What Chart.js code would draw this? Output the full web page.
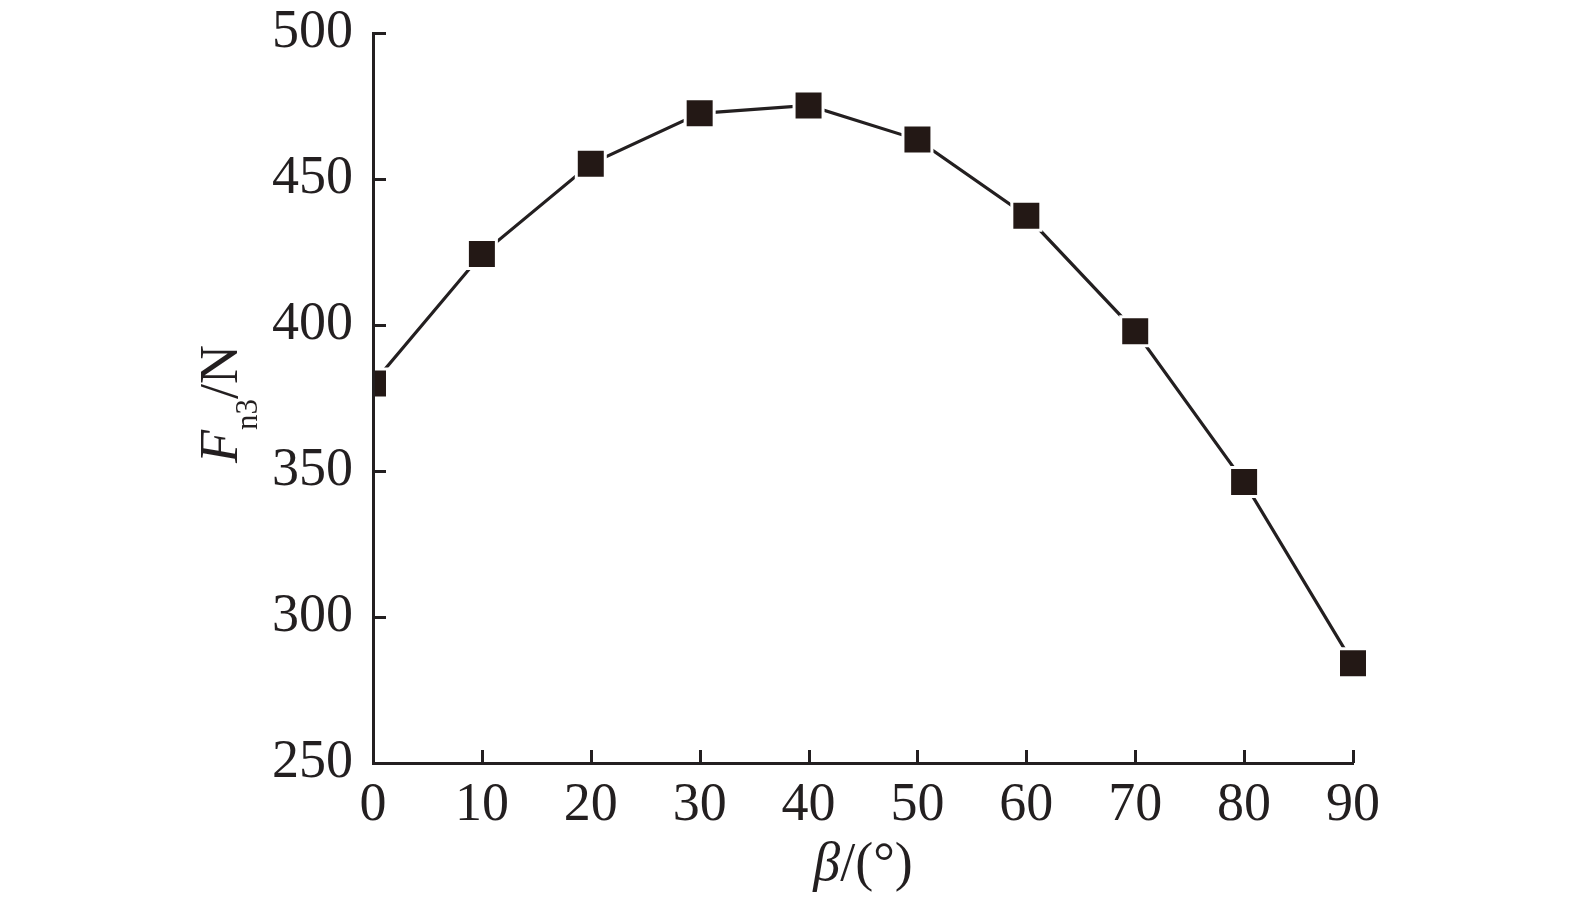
<!DOCTYPE html>
<html>
<head>
<meta charset="utf-8">
<script src="https://cdn.jsdelivr.net/npm/chart.js@4/dist/chart.umd.min.js"></script>
<style>
  html, body { margin: 0; padding: 0; background: #fff; }
</style>
</head>
<body>
<canvas id="chart" width="1575" height="902"></canvas>
<script>
// beta angle in degrees and measured normal force Fn3 in N
const betaDeg = [0, 10, 20, 30, 40, 50, 60, 70, 80, 90];
const fn3 = [380, 424.3, 455.2, 472.5, 475.2, 463.5, 437.4, 397.9, 346.2, 284.2];
const xTicks = [0, 10, 20, 30, 40, 50, 60, 70, 80, 90];
const yTicks = [250, 300, 350, 400, 450, 500];

const ink = '#231f20';
const serif = '"Liberation Serif", "Times New Roman", serif';

// ticks point into the plot area, so draw them ourselves
const innerTicks = {
    id: 'innerTicks',
    afterDraw(chart) {
        const ctx = chart.ctx;
        const xs = chart.scales.x, ys = chart.scales.y;
        const len = 13;
        ctx.save();
        ctx.strokeStyle = ink;
        ctx.lineWidth = 3;
        ctx.beginPath();
        xTicks.forEach(v => {
            const px = Math.round(xs.getPixelForValue(v)) + 0.5;
            ctx.moveTo(px, ys.bottom);
            ctx.lineTo(px, ys.bottom - len);
        });
        yTicks.forEach(v => {
            const py = Math.round(ys.getPixelForValue(v)) + 0.5;
            ctx.moveTo(xs.left, py);
            ctx.lineTo(xs.left + len, py);
        });
        ctx.stroke();
        ctx.restore();
    }
};

// axis titles with italic symbols and a subscript
const axisTitles = {
    id: 'axisTitles',
    afterDraw(chart) {
        const ctx = chart.ctx;
        const area = chart.chartArea;
        ctx.save();
        ctx.fillStyle = ink;
        ctx.textBaseline = 'alphabetic';

        // y title: F_n3/N
        const big = '54px ' + serif, bigIt = 'italic 54px ' + serif, small = '31px ' + serif;
        const parts = [
            { t: 'F', f: bigIt, dy: 0 },
            { t: 'n3', f: small, dy: 20 },
            { t: '/N', f: big, dy: 0 }
        ];
        let total = 0;
        parts.forEach(p => { ctx.font = p.f; p.w = ctx.measureText(p.t).width; total += p.w; });
        ctx.translate(237, 404);
        ctx.rotate(-Math.PI / 2);
        let cx = -total / 2;
        parts.forEach(p => {
            ctx.font = p.f;
            ctx.fillText(p.t, cx, p.dy);
            cx += p.w;
        });
        ctx.setTransform(1, 0, 0, 1, 0, 0);

        // x title: beta/(deg)
        const xparts = [
            { t: 'β', f: bigIt },
            { t: '/(°)', f: big }
        ];
        total = 0;
        xparts.forEach(p => { ctx.font = p.f; p.w = ctx.measureText(p.t).width; total += p.w; });
        cx = (area.left + area.right) / 2 - total / 2;
        xparts.forEach(p => {
            ctx.font = p.f;
            ctx.fillText(p.t, cx, 880);
            cx += p.w;
        });
        ctx.restore();
    }
};

const points = betaDeg.map((b, i) => ({ x: b, y: fn3[i] }));

new Chart(document.getElementById('chart').getContext('2d'), {
    type: 'line',
    data: {
        datasets: [{
            data: points,
            borderColor: ink,
            borderWidth: 3.2,
            tension: 0,
            pointStyle: 'rect',
            pointRadius: 20.5,
            pointHoverRadius: 20.5,
            pointBackgroundColor: '#231815',
            pointBorderColor: '#ffffff',
            pointBorderWidth: 3,
            clip: { left: -2, top: false, right: false, bottom: false }
        }]
    },
    options: {
        responsive: false,
        animation: false,
        devicePixelRatio: 1,
        layout: { padding: { left: 253, right: 222, top: 33, bottom: 79 } },
        plugins: { legend: { display: false }, tooltip: { enabled: false } },
        scales: {
            x: {
                type: 'linear',
                min: 0,
                max: 90,
                afterFit: s => { s.height = 60; s.paddingLeft = 0; s.paddingRight = 0; },
                afterBuildTicks: s => { s.ticks = xTicks.map(v => ({ value: v })); },
                grid: { display: false, drawTicks: false },
                border: { display: true, color: ink, width: 3 },
                ticks: { color: ink, padding: 10, maxRotation: 0, font: { family: serif, size: 54 } }
            },
            y: {
                type: 'linear',
                min: 250,
                max: 500,
                afterFit: s => { s.width = 120; s.paddingTop = 0; s.paddingBottom = 0; },
                afterBuildTicks: s => { s.ticks = yTicks.map(v => ({ value: v })); },
                grid: { display: false, drawTicks: false },
                border: { display: true, color: ink, width: 3 },
                ticks: { color: ink, padding: 20, font: { family: serif, size: 54 } }
            }
        }
    },
    plugins: [innerTicks, axisTitles]
});
</script>
</body>
</html>
